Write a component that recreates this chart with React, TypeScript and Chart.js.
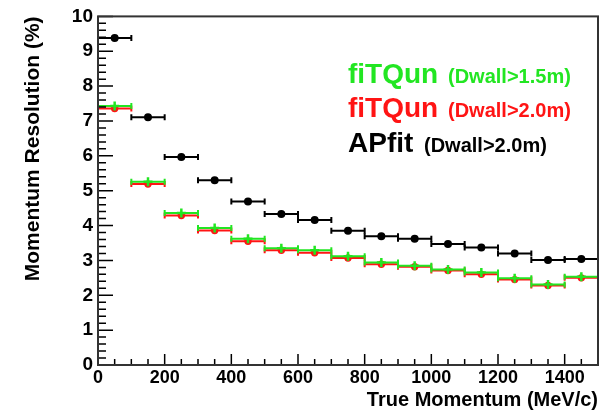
import { useEffect, useRef } from 'react';
import { Chart, registerables } from 'chart.js';

Chart.register(...registerables);

// ---- data ----
const binCenters = [50, 150, 250, 350, 450, 550, 650, 750, 850, 950, 1050, 1150, 1250, 1350, 1450];
const binHalfWidth = 50;
const apfitDwall20 = [9.38, 7.11, 5.97, 5.3, 4.69, 4.33, 4.16, 3.85, 3.69, 3.62, 3.47, 3.37, 3.2, 3.01, 3.04];
const fitqunDwall15 = [7.43, 5.26, 4.36, 3.93, 3.62, 3.35, 3.29, 3.12, 2.94, 2.85, 2.74, 2.65, 2.49, 2.31, 2.53];
const fitqunDwall20 = [7.36, 5.19, 4.29, 3.86, 3.55, 3.29, 3.22, 3.07, 2.89, 2.82, 2.71, 2.6, 2.45, 2.28, 2.5];
const legendNames = ['fiTQun', 'fiTQun', 'APfit'];
const legendCuts = ['(Dwall>1.5m)', '(Dwall>2.0m)', '(Dwall>2.0m)'];
const xTitle = 'True Momentum (MeV/c)';
const yTitle = 'Momentum Resolution (%)';

const GREEN = '#22e622';
const RED = '#ff1414';
const BLACK = '#000000';
const FONT = '"Liberation Sans", Arial, Helvetica, sans-serif';

const pts = (ys: number[]) => binCenters.map((x, i) => ({ x, y: ys[i] }));

const rootPlugin = {
  id: 'rootStyle',
  beforeDatasetsDraw(chart: any) {
    const { ctx } = chart;
    const xs = chart.scales.x;
    const ys = chart.scales.y;
    const order = [2, 1, 0];
    ctx.save();
    order.forEach((di) => {
      const ds = chart.data.datasets[di];
      ctx.strokeStyle = ds.borderColor;
      ctx.lineWidth = 2;
      ds.data.forEach((p: any) => {
        const x1 = xs.getPixelForValue(p.x - binHalfWidth);
        const x2 = xs.getPixelForValue(p.x + binHalfWidth);
        const y = ys.getPixelForValue(p.y);
        ctx.beginPath();
        ctx.moveTo(x1, y);
        ctx.lineTo(x2, y);
        ctx.moveTo(x1, y - 3);
        ctx.lineTo(x1, y + 3);
        ctx.moveTo(x2, y - 3);
        ctx.lineTo(x2, y + 3);
        ctx.stroke();
      });
    });
    ctx.restore();
  },
  afterDraw(chart: any) {
    const { ctx, chartArea: a } = chart;
    const xs = chart.scales.x;
    const ys = chart.scales.y;
    ctx.save();
    ctx.strokeStyle = '#000';
    ctx.lineWidth = 1.5;
    ctx.beginPath();
    for (let v = 0; v <= 1500; v += 50) {
      const px = xs.getPixelForValue(v);
      const len = v % 200 === 0 ? 11 : 6;
      ctx.moveTo(px, a.bottom);
      ctx.lineTo(px, a.bottom - len);
    }
    for (let k = 0; k <= 50; k++) {
      const v = k * 0.2;
      const py = ys.getPixelForValue(v);
      const len = k % 5 === 0 ? 15 : 8;
      ctx.moveTo(a.left, py);
      ctx.lineTo(a.left + len, py);
    }
    ctx.stroke();
    ctx.strokeStyle = '#333';
    ctx.lineWidth = 2;
    ctx.strokeRect(a.left, a.top, a.right - a.left, a.bottom - a.top);
    const colors = [GREEN, RED, BLACK];
    const baselines = [83, 117, 152];
    const cutX = [448, 448, 424];
    ctx.textBaseline = 'alphabetic';
    ctx.textAlign = 'left';
    legendNames.forEach((name, i) => {
      ctx.fillStyle = colors[i];
      ctx.font = `bold 28px ${FONT}`;
      ctx.fillText(name, 348, baselines[i]);
      ctx.font = `bold 20px ${FONT}`;
      ctx.fillText(legendCuts[i], cutX[i], baselines[i]);
    });
    ctx.restore();
  },
};

export default function App() {
  const ref = useRef<HTMLCanvasElement>(null);
  useEffect(() => {
    if (!ref.current) return;
    const chart = new Chart(ref.current, {
      type: 'scatter',
      data: {
        datasets: [
          {
            label: 'fiTQun (Dwall>1.5m)',
            data: pts(fitqunDwall15),
            borderColor: GREEN,
            backgroundColor: GREEN,
            pointStyle: 'cross',
            pointRadius: 4.5,
            borderWidth: 2.5,
            showLine: false,
          },
          {
            label: 'fiTQun (Dwall>2.0m)',
            data: pts(fitqunDwall20),
            borderColor: RED,
            backgroundColor: RED,
            pointStyle: 'circle',
            pointRadius: 3.7,
            borderWidth: 0,
            showLine: false,
          },
          {
            label: 'APfit (Dwall>2.0m)',
            data: pts(apfitDwall20),
            borderColor: BLACK,
            backgroundColor: BLACK,
            pointStyle: 'circle',
            pointRadius: 4,
            borderWidth: 0,
            showLine: false,
          },
        ],
      },
      plugins: [rootPlugin],
      options: {
        animation: false,
        responsive: true,
        maintainAspectRatio: false,
        layout: { padding: { left: 0, right: 7, top: 15, bottom: 0 } },
        plugins: { legend: { display: false }, tooltip: { enabled: false } },
        scales: {
          x: {
            type: 'linear',
            min: 0,
            max: 1500,
            grid: { display: false, drawTicks: false },
            border: { display: false },
            ticks: {
              stepSize: 200,
              includeBounds: false,
              padding: 2,
              color: '#000',
              font: { family: FONT, size: 18, weight: 'bold' },
              maxRotation: 0,
              callback: (v: any) => String(v),
            },
            title: {
              display: true,
              text: xTitle,
              align: 'end',
              color: '#000',
              font: { family: FONT, size: 20, weight: 'bold' },
              padding: { top: 0, bottom: 0 },
            },
            afterFit: (s: any) => {
              s.height = 47;
            },
          },
          y: {
            type: 'linear',
            min: 0,
            max: 10,
            grid: { display: false, drawTicks: false },
            border: { display: false },
            ticks: {
              stepSize: 1,
              padding: 5,
              color: '#000',
              font: { family: FONT, size: 19, weight: 'bold' },
              callback: (v: any) => String(v),
            },
            title: {
              display: true,
              text: yTitle,
              align: 'end',
              color: '#000',
              font: { family: FONT, size: 21, weight: 'bold' },
              padding: { top: 21, bottom: 0 },
            },
            afterFit: (s: any) => {
              s.width = 98;
            },
          },
        },
      },
    });
    return () => chart.destroy();
  }, []);
  return (
    <div style={{ position: 'absolute', left: 0, top: 0, width: 605, height: 412, background: '#fff' }}>
      <canvas ref={ref} />
    </div>
  );
}
